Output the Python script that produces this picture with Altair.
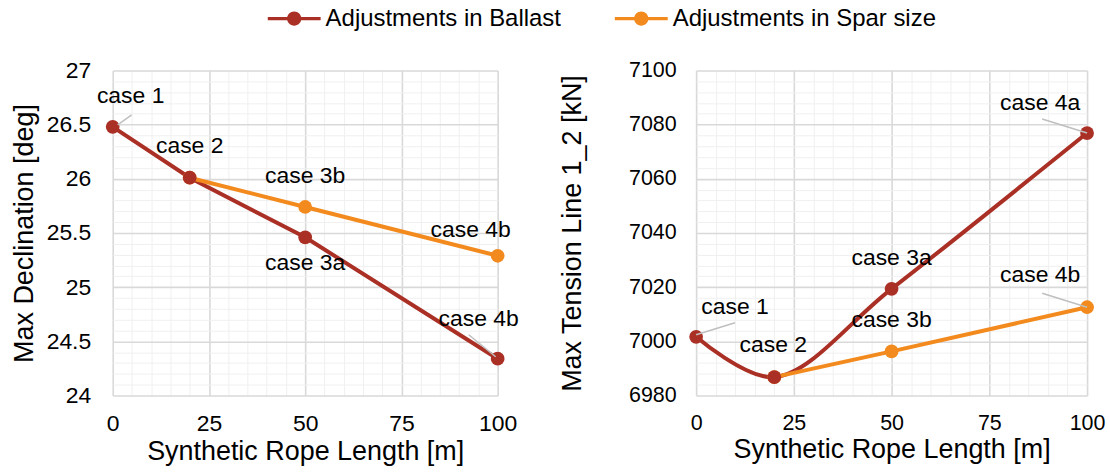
import altair as alt
import pandas as pd

FONT = "Liberation Sans"
SERIES = ["Adjustments in Ballast", "Adjustments in Spar size"]
COLORS = ["#AA3026", "#F38A1E"]

# ---- data ----
rope_ballast = [0, 20, 50, 100]
rope_spar = [20, 50, 100]

decl_ballast = [26.48, 26.01, 25.46, 24.34]
decl_spar = [26.01, 25.74, 25.29]
decl_labels_ballast = ["case 1", "case 2", "case 3a", "case 4b"]
decl_labels_spar = ["", "case 3b", "case 4b"]

tens_ballast = [7001.7, 6986.8, 7019.4, 7076.9]
tens_spar = [6986.8, 6996.3, 7012.6]
tens_labels_ballast = ["case 1", "case 2", "case 3a", "case 4a"]
tens_labels_spar = ["", "case 3b", "case 4b"]

x_ticks = list(range(0, 101, 5))
decl_ticks = [round(24 + 0.1 * i, 1) for i in range(31)]
tens_ticks = list(range(6980, 7101, 4))

# ---- label / leader styling (pixel offsets from the data point) ----
decl_label_offsets = {
    "B|case 1": (18, -31), "B|case 2": (0, -32), "B|case 3a": (0, 26),
    "B|case 4b": (-19, -40), "S|case 3b": (0, -31), "S|case 4b": (-27, -26),
}
decl_leaders = {"B|case 1": (5, -2, 19, -12), "B|case 4b": (-29, -24, -2, -2)}
tens_label_offsets = {
    "B|case 1": (39, -30), "B|case 2": (-1, -32), "B|case 3a": (0, -31),
    "B|case 4a": (-47, -30), "S|case 3b": (0, -31), "S|case 4b": (-47, -32),
}
tens_leaders = {"B|case 1": (0, -2, 39, -14), "B|case 4a": (-45, -14, 0, 0),
                "S|case 4b": (-45, -14, 0, 0)}


def make_df(xb, yb, lb, xs, ys, ls):
    rows = []
    for x, y, l in zip(xb, yb, lb):
        rows.append({"x": x, "y": y, "series": SERIES[0], "label": l, "key": "B|" + l})
    for x, y, l in zip(xs, ys, ls):
        rows.append({"x": x, "y": y, "series": SERIES[1], "label": l, "key": "S|" + l})
    return pd.DataFrame(rows)


cscale = alt.Scale(domain=SERIES, range=COLORS)
# symbol: line with a dot, drawn wider than its 20px layout box
legend = alt.Legend(
    title=None, orient="none", direction="horizontal", legendX=170, legendY=-64,
    labelFont=FONT, labelFontSize=24, labelColor="black", labelOffset=19.5, labelLimit=400,
    symbolType="M-2.65,-0.16 L2.65,-0.16 L2.65,0.16 L-2.65,0.16 Z M0.72,0 A0.72,0.72 0 1,1 -0.72,0 A0.72,0.72 0 1,1 0.72,0 Z",
    symbolSize=400, symbolStrokeWidth=0, symbolOpacity=1, columnPadding=53,
)


def grid_color(test):
    return {"condition": {"test": test, "value": "#D9D9D9"}, "value": "#F0F0F0"}


def grid_width(test):
    return {"condition": {"test": test, "value": 1.6}, "value": 1}


def panel(df, y_title, y_domain, y_vals, y_test, width, tick_size, ytitle_pad,
          ylabel_pad, interp, label_offsets, leaders):
    x_test = "datum.value % 25 === 0"
    x_axis = alt.Axis(
        values=x_ticks, labelExpr=f"{x_test} ? format(datum.value, '~g') : ''",
        labelOverlap=False, labelFlush=False, labelFont=FONT, labelFontSize=tick_size,
        labelColor="black", labelPadding=17, ticks=False, tickSize=0, domain=False,
        grid=True, gridColor=grid_color(x_test), gridWidth=grid_width(x_test),
        title="Synthetic Rope Length [m]", titleFont=FONT, titleFontSize=27,
        titleFontWeight="normal", titleColor="black", titlePadding=3,
    )
    y_axis = alt.Axis(
        values=y_vals, labelExpr=f"{y_test} ? format(datum.value, '~g') : ''",
        labelOverlap=False, labelFlush=False, labelFont=FONT, labelFontSize=tick_size,
        labelColor="black", labelPadding=ylabel_pad, ticks=False, tickSize=0, domain=False,
        grid=True, gridColor=grid_color(y_test), gridWidth=grid_width(y_test),
        title=y_title, titleFont=FONT, titleFontSize=27, titleFontWeight="normal",
        titleColor="black", titlePadding=ytitle_pad,
    )
    base = alt.Chart(df).encode(
        x=alt.X("x:Q", scale=alt.Scale(domain=[0, 100], nice=False), axis=x_axis),
        y=alt.Y("y:Q", scale=alt.Scale(domain=y_domain, nice=False, zero=False), axis=y_axis),
    )
    layers = []
    line_b = base.transform_filter(alt.datum.series == SERIES[0]).mark_line(
        strokeWidth=4, interpolate=interp, color=COLORS[0])
    line_s = base.transform_filter(alt.datum.series == SERIES[1]).mark_line(
        strokeWidth=4, color=COLORS[1])
    pts_s = base.transform_filter(alt.datum.series == SERIES[1]).mark_point(
        filled=True, size=190, opacity=1).encode(
        color=alt.Color("series:N", scale=cscale, legend=legend))
    pts_b = base.transform_filter(alt.datum.series == SERIES[0]).mark_point(
        filled=True, size=190, opacity=1).encode(
        color=alt.Color("series:N", scale=cscale, legend=legend))
    layers += [line_b, line_s, pts_s, pts_b]
    for key, (x0, y0, x1, y1) in leaders.items():
        layers.append(base.transform_filter(alt.datum.key == key).mark_rule(
            color="#BFBFBF", strokeWidth=1.5, xOffset=x0, yOffset=y0,
            x2Offset=x1, y2Offset=y1).encode(x2="x:Q", y2="y:Q"))
    for key, (dx, dy) in label_offsets.items():
        layers.append(base.transform_filter(alt.datum.key == key).mark_text(
            dx=dx, dy=dy, font=FONT, fontSize=23, color="black", align="center",
            baseline="middle").encode(text="label:N"))
    return alt.layer(*layers).properties(width=width, height=326)


left = panel(
    make_df(rope_ballast, decl_ballast, decl_labels_ballast, rope_spar, decl_spar, decl_labels_spar),
    "Max Declination [deg]", [24, 27], decl_ticks,
    "abs(datum.value * 2 - round(datum.value * 2)) < 0.001",
    386, 23, 8, 22, "linear", decl_label_offsets, decl_leaders)

right = panel(
    make_df(rope_ballast, tens_ballast, tens_labels_ballast, rope_spar, tens_spar, tens_labels_spar),
    "Max Tension Line 1_2 [kN]", [6980, 7100], tens_ticks,
    "datum.value % 20 === 0",
    392, 21.5, 42, 20, "catmull-rom", tens_label_offsets, tens_leaders)

chart = alt.hconcat(left, right, spacing=39).properties(
    padding={"left": 10, "top": 6, "right": 5, "bottom": 3},
    background="white",
).configure_view(stroke=None)

chart.save("out.html", embed_options={"renderer": "svg", "actions": False})
